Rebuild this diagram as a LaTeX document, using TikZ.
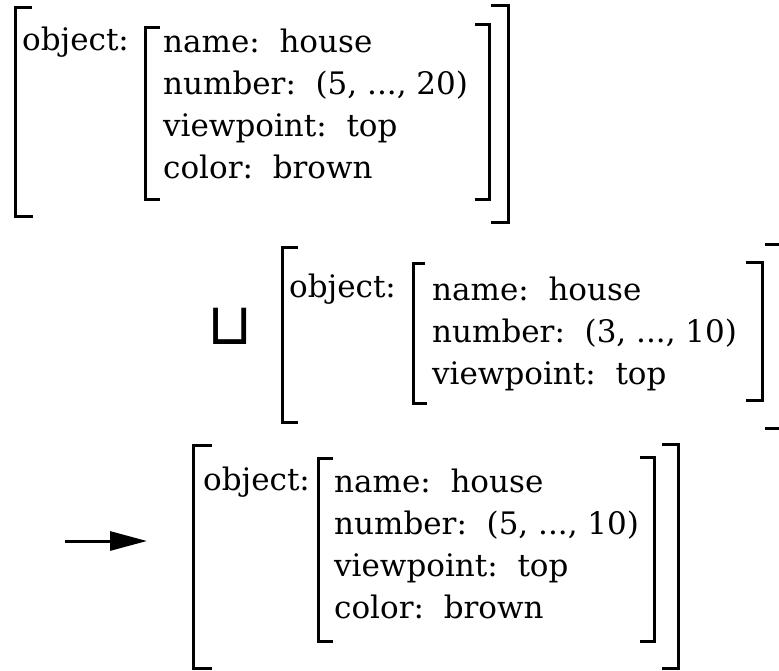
\documentclass[tikz,border=0pt]{standalone}
\usepackage{fontspec}
\setmainfont{DejaVu Serif}
\newfontfamily\signfont{DejaVu Sans}
\usepackage{tikz}
\usetikzlibrary{arrows.meta}
\tikzset{
    bracket-line/.style = {draw=black, line width=3pt, line join=miter},
    feature-label/.style = {inner sep=0pt, anchor=base west, font=\fontsize{31}{42}\selectfont},
    feature-list/.style = {feature-label},
    union-sign/.style = {inner sep=0pt, font=\signfont\fontsize{58}{58}\selectfont},
    result-arrow/.style = {line width=3pt, -{Triangle[length=37pt,width=19pt]}},
}
\newcommand{\featlist}[1]{\begin{tabular}[t]{@{}l@{}}#1\end{tabular}}

\begin{document}
\begin{tikzpicture}[x=1pt,y=-1pt]
\useasboundingbox (0,0) rectangle (779,670);
% first structure
\draw[bracket-line] (32,7) -- (15,7) -- (15,216) -- (33,216);
\draw[bracket-line] (160,27) -- (145,27) -- (145,199) -- (160,199);
\draw[bracket-line] (475,24) -- (489,24) -- (489,199) -- (475,199);
\draw[bracket-line] (491,5) -- (508,5) -- (508,222) -- (491,222);
\node[feature-label] (object-a) at (22,50) {object:};
\node[feature-list] (list-a) at (163,52) {\featlist{name:\ \ house\\number:\ \ (5, ..., 20)\\viewpoint:\ \ top\\color:\ \ brown}};
% second structure
\node[union-sign] (unify) at (230,326) {⊔};
\draw[bracket-line] (298,247) -- (282,247) -- (282,422) -- (298,422);
\draw[bracket-line] (425,263) -- (413,263) -- (413,403) -- (427,403);
\draw[bracket-line] (746,262) -- (762,262) -- (762,400) -- (746,400);
\draw[bracket-line] (765,244) -- (781,244) -- (781,428) -- (765,428);
\node[feature-label] (object-b) at (289,297) {object:};
\node[feature-list] (list-b) at (432,300) {\featlist{name:\ \ house\\number:\ \ (3, ..., 10)\\viewpoint:\ \ top}};
% result
\coordinate (arrow-start) at (65,541);
\coordinate (arrow-end) at (147,541);
\draw[result-arrow] (arrow-start) -- (arrow-end);
\draw[bracket-line] (212,445) -- (193,445) -- (193,668) -- (212,668);
\draw[bracket-line] (333,458) -- (318,458) -- (318,641) -- (333,641);
\draw[bracket-line] (640,457) -- (654,457) -- (654,641) -- (640,641);
\draw[bracket-line] (662,444) -- (678,444) -- (678,668) -- (662,668);
\node[feature-label] (object-c) at (203,490) {object:};
\node[feature-list] (list-c) at (334,492) {\featlist{name:\ \ house\\number:\ \ (5, ..., 10)\\viewpoint:\ \ top\\color:\ \ brown}};
\end{tikzpicture}
\end{document}
